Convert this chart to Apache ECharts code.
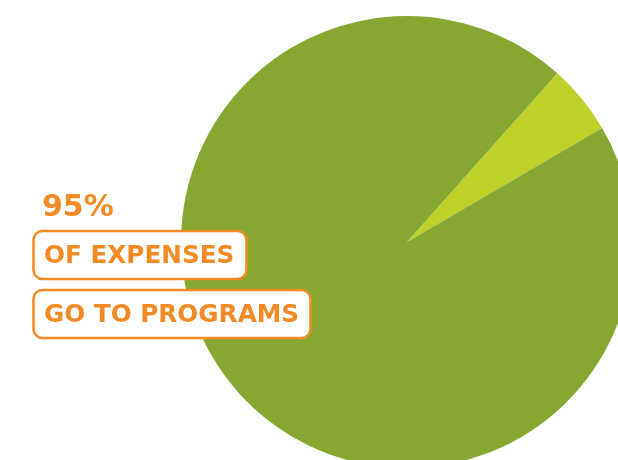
<!DOCTYPE html>
<html><head><meta charset="utf-8">
<script src="https://cdn.jsdelivr.net/npm/echarts@6/dist/echarts.min.js"></script>
<style>html,body{margin:0;padding:0;background:#fff}#c{width:618px;height:460px}</style>
</head><body><div id="c"></div>
<script>
const categories = ["Other", "Programs"];
const values = [5, 95];
const colors = ["#c0d02b", "#86a832"];
const headline = "95%";
const line1 = "OF EXPENSES";
const line2 = "GO TO PROGRAMS";
const orange = "#f28a25";
const font = "DejaVu Sans";

const chart = echarts.init(document.getElementById('c'), null, {renderer: 'canvas'});
chart.setOption({
  animation: false,
  series: [{
    type: 'pie',
    center: [407, 242],
    radius: 226,
    startAngle: 48.3,
    clockwise: true,
    label: {show: false},
    labelLine: {show: false},
    emphasis: {disabled: true},
    itemStyle: {borderWidth: 0},
    data: categories.map((c, i) => ({name: c, value: values[i], itemStyle: {color: colors[i]}}))
  }],
  graphic: [
    {type: 'text', left: 42, top: 193, z: 10, style: {text: headline, fill: orange, font: 'bold 30px "' + font + '"'}},
    {type: 'rect', z: 10, shape: {x: 33.5, y: 231, width: 213, height: 48, r: 9},
      style: {fill: '#fff', stroke: orange, lineWidth: 2.5}},
    {type: 'text', z: 11, left: 44, top: 244, style: {text: line1, fill: orange, font: 'bold 24.7px "' + font + '"'}},
    {type: 'rect', z: 10, shape: {x: 33.5, y: 290, width: 277, height: 48, r: 9},
      style: {fill: '#fff', stroke: orange, lineWidth: 2.5}},
    {type: 'text', z: 11, left: 44, top: 303, style: {text: line2, fill: orange, font: 'bold 24.7px "' + font + '"'}}
  ]
});
</script></body></html>
